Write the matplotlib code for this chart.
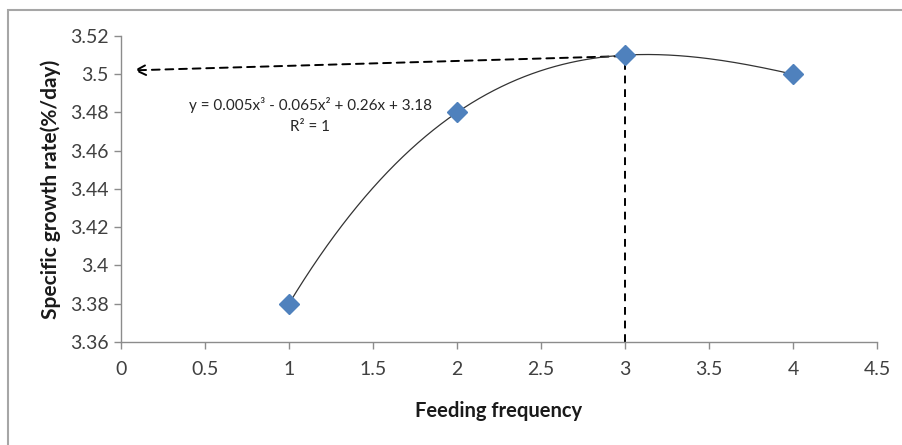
import numpy as np
import matplotlib.pyplot as plt
from matplotlib.patches import Rectangle

# feeding frequency vs specific growth rate
freq = [1, 2, 3, 4]
sgr = [3.38, 3.48, 3.51, 3.50]
x_ticks = [0, 0.5, 1, 1.5, 2, 2.5, 3, 3.5, 4, 4.5]
y_ticks = [3.36, 3.38, 3.4, 3.42, 3.44, 3.46, 3.48, 3.5, 3.52]
y_tick_labels = ["3.36", "3.38", "3.4", "3.42", "3.44", "3.46", "3.48", "3.5", "3.52"]

plt.rcParams["font.family"] = ["Lato", "DejaVu Sans"]

fig = plt.figure(figsize=(9.02, 4.45), dpi=100)
ax = fig.add_axes([0.1341, 0.2315, 0.8382, 0.6876])

# outer chart frame (cropped at right and bottom)
fig.patches.append(Rectangle((8 / 902, -0.05), 1.1, 1 - 10 / 445 + 0.05,
                             transform=fig.transFigure, fill=False,
                             edgecolor="#a6a6a6", linewidth=1.5))

# cubic trendline
coef = np.polyfit(freq, sgr, 3)
xs = np.linspace(min(freq), max(freq), 200)
ax.plot(xs, np.polyval(coef, xs), color="#333333", linewidth=0.9, zorder=2)

ax.plot(freq, sgr, linestyle="none", marker="D", markersize=10,
        color="#4f81bd", zorder=3)

# optimum guide lines
peak_x = freq[2]
peak_y = sgr[2]
ax.plot([peak_x, peak_x], [3.36, peak_y], color="black", linestyle=(0, (4, 3)),
        linewidth=1.4, zorder=1)
ax.annotate("", xy=(0.06, 3.502), xytext=(peak_x, peak_y - 0.0005),
            arrowprops=dict(arrowstyle="->", linestyle=(0, (4, 3)), color="black",
                            linewidth=1.4, mutation_scale=18), zorder=1)

ax.text(1.128, 3.4839, "y = 0.005x³ - 0.065x² + 0.26x + 3.18", fontsize=11,
        ha="center", va="center", color="#262626")
ax.text(1.125, 3.4724, "R² = 1", fontsize=11, ha="center", va="center",
        color="#262626")

ax.set_xlim(0, 4.5)
ax.set_ylim(3.36, 3.52)
ax.set_xticks(x_ticks)
ax.set_xticklabels([f"{t:g}" for t in x_ticks])
ax.set_yticks(y_ticks)
ax.set_yticklabels(y_tick_labels)

for side in ["top", "right"]:
    ax.spines[side].set_visible(False)
for side in ["left", "bottom"]:
    ax.spines[side].set_color("#8c8c8c")
    ax.spines[side].set_linewidth(1.0)
ax.tick_params(axis="both", colors="#8c8c8c", length=5, width=1.0,
               labelsize=14, labelcolor="#404040")
ax.tick_params(axis="x", pad=9)
ax.tick_params(axis="y", pad=4)

ax.set_xlabel("Feeding frequency", fontsize=14.5, fontweight="bold",
              color="#1a1a1a", labelpad=16)
ax.set_ylabel("Specific growth rate(%/day)", fontsize=15, fontweight="bold",
              color="#1a1a1a", labelpad=6)

fig.savefig("out.png", dpi=100)
